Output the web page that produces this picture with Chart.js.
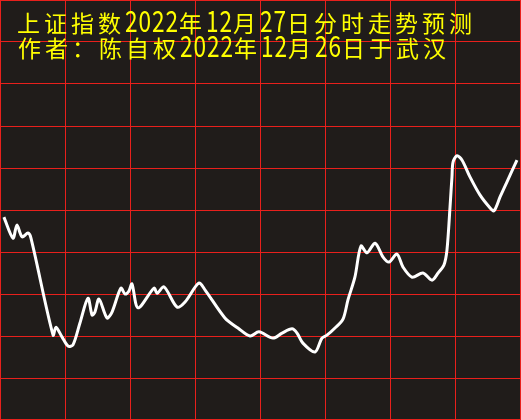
<!DOCTYPE html>
<html>
<head>
<meta charset="utf-8">
<script src="https://cdn.jsdelivr.net/npm/chart.js@4"></script>
<style>
  html, body { margin: 0; padding: 0; background: #201c1a; }
  #wrap { width: 521px; height: 420px; }
</style>
</head>
<body>
<div id="wrap"><canvas id="fenshi" width="521" height="420"></canvas></div>
<script>
// titulo (duas linhas, amarelo)
const linha1 = '上证指数2022年12月27日分时走势预测'
const linha2 = '作者：陈自权2022年12月26日于武汉'

// minutos do pregao (0..240) e valor (escala 0..100)
const minutos = [1.8, 6.0, 7.8, 10.2, 12.9, 14.3, 24.5, 25.8, 28.6, 31.4, 33.7, 36.9, 40.6, 42.5, 43.8, 45.7,
  49.4, 51.7, 55.8, 57.7, 59.5, 60.9, 63.7, 71.1, 72.5, 75.7, 81.7, 85.4, 91.8, 94.6, 103.8, 109.8,
  115.4, 119.5, 126.0, 130.2, 134.8, 137.1, 139.8, 145.4, 148.6, 150.9, 154.6, 158.3, 160.6, 163.8,
  166.6, 169.4, 173.1, 176.8, 179.5, 183.2, 186.0, 190.2, 195.2, 199.4, 202.2, 204.9, 206.3, 207.7,
  208.6, 209.1, 210.9, 213.2, 216.9, 221.5, 226.2, 228.0, 230.8, 234.0, 238.6]
const valores = [48.3, 43.3, 46.4, 43.6, 44.5, 43.3, 20.2, 22.1, 19.8, 17.6, 17.9, 23.1, 29.0, 25.0, 25.7, 28.8,
  24.3, 25.7, 31.4, 30.0, 30.7, 32.4, 26.7, 31.4, 30.2, 31.7, 26.9, 28.1, 32.6, 31.0, 24.3, 21.9,
  20.0, 21.0, 19.5, 20.7, 21.7, 20.7, 18.3, 16.2, 19.5, 20.2, 21.9, 24.0, 28.6, 34.0,
  41.4, 39.8, 42.1, 38.8, 37.6, 39.5, 36.4, 34.0, 35.0, 33.3, 35.0, 36.9, 40.5, 50.7,
  57.9, 61.4, 62.9, 61.9, 57.9, 53.6, 50.5, 49.8, 53.1, 56.7, 61.9]

const pontos = minutos.map((m, i) => ({ x: m, y: valores[i] }))
const vermelho = '#e8201c'

// fundo escuro
const fundo = {
  id: 'fundo',
  beforeDraw(chart) {
    const c = chart.ctx
    c.save()
    c.fillStyle = '#201c1a'
    c.fillRect(0, 0, chart.width, chart.height)
    c.restore()
  }
}

// linha de baixo da moldura (a ultima linha da grade cai fora do canvas)
const moldura = {
  id: 'moldura',
  beforeDatasetsDraw(chart) {
    const c = chart.ctx
    c.save()
    c.strokeStyle = vermelho
    c.lineWidth = 1
    c.beginPath()
    c.moveTo(0, chart.height - 0.5)
    c.lineTo(chart.width, chart.height - 0.5)
    c.stroke()
    c.restore()
  }
}

// escreve o titulo letra por letra (largura fixa tipo SimSun)
const escreve = (c, txt, x, y) => {
  for (const ch of txt) {
    if (ch.charCodeAt(0) < 128) {
      // digitos altos e estreitos
      c.save()
      c.translate(x, y)
      c.scale(0.78, 1)
      c.font = '29px "Noto Sans CJK SC"'
      c.fillText(ch, 0, 0)
      c.restore()
      x += 13.5
    } else {
      c.font = '23px "Noto Sans CJK SC"'
      c.fillText(ch, x, y)
      x += 27
    }
  }
}
const titulo = {
  id: 'titulo',
  afterDraw(chart) {
    const c = chart.ctx
    c.save()
    c.fillStyle = '#ffff00'
    c.textBaseline = 'alphabetic'
    escreve(c, linha1, 17, 32)
    escreve(c, linha2, 18, 57)
    c.restore()
  }
}

new Chart(document.getElementById('fenshi'), {
  type: 'line',
  data: {
    datasets: [{
      data: pontos,
      borderColor: '#ffffff',
      borderWidth: 3,
      pointRadius: 0,
      tension: 0.3,
      fill: false
    }]
  },
  options: {
    responsive: false,
    animation: false,
    layout: { padding: { left: 0, top: 0, right: 1, bottom: 0 } },
    plugins: { legend: { display: false }, tooltip: { enabled: false } },
    scales: {
      x: {
        type: 'linear', min: 0, max: 240,
        ticks: { display: false, stepSize: 30 },
        grid: { color: () => vermelho, lineWidth: 1, drawTicks: false },
        border: { display: false }
      },
      y: {
        min: 0, max: 100,
        ticks: { display: false, stepSize: 10 },
        grid: { color: () => vermelho, lineWidth: 1, drawTicks: false },
        border: { display: false }
      }
    }
  },
  plugins: [fundo, moldura, titulo]
})
</script>
</body>
</html>
